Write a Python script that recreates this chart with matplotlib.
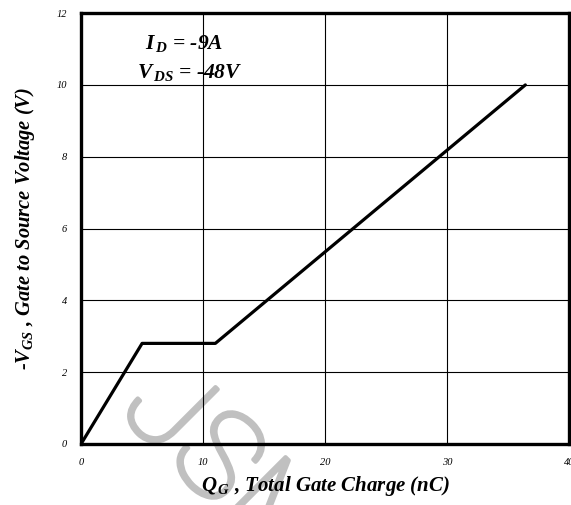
import matplotlib
matplotlib.use("Agg")
from matplotlib import pyplot as plt
from matplotlib import patheffects

# gate charge curve (nC, V)
qg = [0, 5.0, 11.0, 36.4]
vgs = [0, 2.8, 2.8, 10.0]
x_ticks = [0, 10, 20, 30, 40]
y_ticks = [0, 2, 4, 6, 8, 10, 12]

plt.rcParams['mathtext.fontset'] = 'custom'
plt.rcParams['mathtext.rm'] = 'Liberation Serif:bold:italic'
plt.rcParams['mathtext.it'] = 'Liberation Serif:bold:italic'
plt.rcParams['mathtext.bf'] = 'Liberation Serif:bold:italic'

serif = dict(family='Liberation Serif', style='italic', weight='bold')

fig = plt.figure(figsize=(5.71, 5.05), dpi=100)
ax = fig.add_axes([0.142, 0.121, 0.855, 0.853])
ax.set_facecolor('none')

ax.plot(qg, vgs, color='black', lw=2.3, solid_capstyle='round', zorder=3)

ax.set_xlim(0, 40)
ax.set_ylim(0, 12)
ax.set_xticks(x_ticks)
ax.set_yticks(y_ticks)
ax.grid(True, color='black', lw=0.8)
ax.tick_params(length=0, labelsize=7.5, pad=10)
for lab in ax.get_xticklabels() + ax.get_yticklabels():
    lab.set_family('Liberation Serif')
    lab.set_style('italic')
for s in ax.spines.values():
    s.set_linewidth(2.4)

ax.set_xlabel(r'$Q_{\,G}$ , Total Gate Charge (nC)', fontsize=15, labelpad=5, **serif)
ax.set_ylabel(r'-$V_{GS}$ , Gate to Source Voltage (V)', fontsize=14.8, labelpad=14, **serif)

ax.text(5.2, 11.0, r'$I_{\,D}$ = -9A', fontsize=15.5, **serif)
ax.text(4.6, 10.2, r'$V_{\,DS}$ = -48V', fontsize=15.5, **serif)

# watermark
fig.text(0.205, 0.185, 'JSM', fontsize=88, color='#c0c0c0', rotation=-45,
         rotation_mode='anchor', ha='left', va='baseline', family='Roboto',
         weight='light', zorder=-1,
         path_effects=[patheffects.withStroke(linewidth=3, foreground='#c0c0c0')])

fig.savefig('out.png', dpi=100)
